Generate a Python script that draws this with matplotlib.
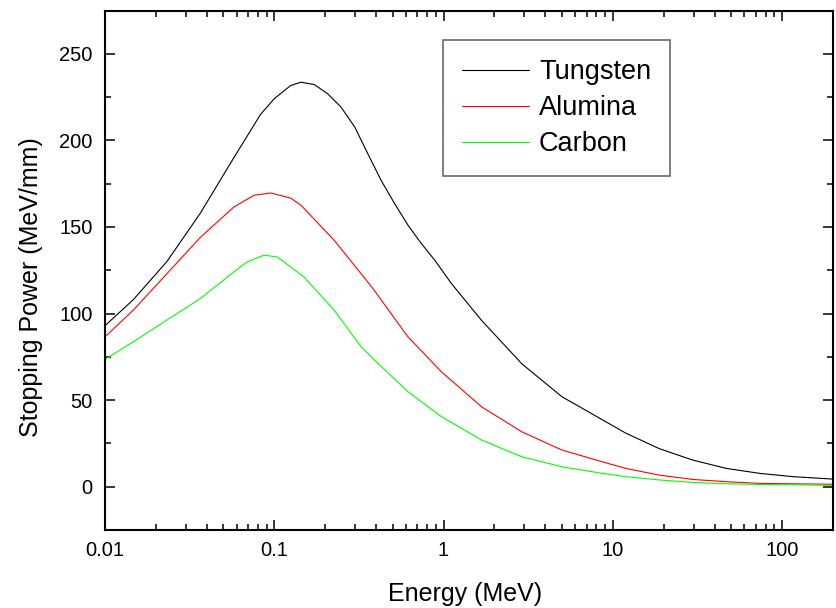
import numpy as np
import matplotlib
matplotlib.use("Agg")
import matplotlib.pyplot as plt
from matplotlib.ticker import MultipleLocator, LogLocator, FixedLocator, FixedFormatter, NullFormatter

plt.rcParams['font.family'] = ['Liberation Sans', 'DejaVu Sans']

# energy grid (MeV) and stopping power (MeV/mm)
energy_w = [0.01, 0.0147, 0.0232, 0.0366, 0.0577, 0.083, 0.0998, 0.125, 0.1437, 0.172, 0.207, 0.248,
            0.299, 0.357, 0.428, 0.514, 0.617, 0.74, 0.888, 1.114, 1.68, 2.9, 5.0, 7.56, 11.9,
            18.8, 29.6, 46.7, 73.8, 116, 200]
tungsten = [93, 108, 130, 158, 190, 215, 224, 231.7, 233.6, 232.3, 226.9, 219.2,
            207.7, 192.3, 176.9, 163.5, 151, 140.4, 130.8, 117.3, 96, 71, 52, 42, 31,
            22, 15.4, 10.6, 7.7, 5.8, 4.4]

energy_al = [0.01, 0.0147, 0.0232, 0.0366, 0.0577, 0.0759, 0.0953, 0.125, 0.144, 0.226,
             0.326, 0.383, 0.617, 0.973, 1.68, 2.9, 5.0, 8.66, 11.9, 18.8, 29.6, 46.7, 73.8, 200]
alumina = [86.5, 102, 123, 144, 161.5, 168.3, 169.6, 166.7, 162.5, 142.3,
           123, 114.4, 86.5, 66.3, 46.1, 31.7, 21.2, 14.4, 10.6, 6.7, 4.2, 2.9, 1.9, 1.4]

energy_c = [0.01, 0.0147, 0.0232, 0.0366, 0.0577, 0.069, 0.087, 0.104, 0.15, 0.226,
            0.326, 0.391, 0.617, 0.973, 1.68, 2.9, 5.0, 8.66, 11.9, 18.8, 29.6, 46.7, 73.8, 200]
carbon = [73.5, 83.7, 96.2, 108.7, 124, 129.8, 133.7, 132.7, 121.1, 101.9,
          80.8, 73.1, 54.8, 40.4, 26.9, 17.3, 11.5, 7.7, 5.8, 3.9, 2.5, 1.7, 1.3, 0.8]

xticks = [0.01, 0.1, 1, 10, 100]
xtick_labels = ['0.01', '0.1', '1', '10', '100']

fig = plt.figure(figsize=(8.36, 6.08), dpi=100)
ax = fig.add_axes([0.1256, 0.1283, 0.8708, 0.8544])

ax.plot(energy_w, tungsten, color='black', lw=0.8, label='Tungsten')
ax.plot(energy_al, alumina, color='#ff0000', lw=0.8, label='Alumina')
ax.plot(energy_c, carbon, color='#00ff00', lw=0.8, label='Carbon')

ax.set_xscale('log')
ax.set_xlim(0.01, 200)
ax.set_ylim(-25, 275)

ax.xaxis.set_major_locator(FixedLocator(xticks))
ax.xaxis.set_major_formatter(FixedFormatter(xtick_labels))
ax.xaxis.set_minor_locator(LogLocator(base=10, subs=np.arange(2, 10)))
ax.xaxis.set_minor_formatter(NullFormatter())
ax.yaxis.set_major_locator(MultipleLocator(50))
ax.yaxis.set_minor_locator(MultipleLocator(25))

ax.tick_params(which='both', direction='in', top=True, right=True, width=1.1, labelsize=14.5)
ax.tick_params(which='major', length=7.5)
ax.tick_params(which='minor', length=4)
ax.tick_params(axis='x', pad=8)
ax.tick_params(axis='y', pad=9)
for sp in ax.spines.values():
    sp.set_linewidth(1.5)

ax.set_xlabel('Energy (MeV)', fontsize=18)
ax.set_ylabel('Stopping Power (MeV/mm)', fontsize=18)
ax.xaxis.set_label_coords(0.495, -0.1)
ax.yaxis.set_label_coords(-0.085, 0.468)

leg = ax.legend(loc='upper left', bbox_to_anchor=(0.464, 0.943), fontsize=19.5, frameon=True,
                fancybox=False, handlelength=2.5, handletextpad=0.35, labelspacing=0.37,
                borderpad=0.7, borderaxespad=0)
leg.get_frame().set_edgecolor('#444444')
leg.get_frame().set_linewidth(1.2)

fig.savefig('out.png', dpi=100)
